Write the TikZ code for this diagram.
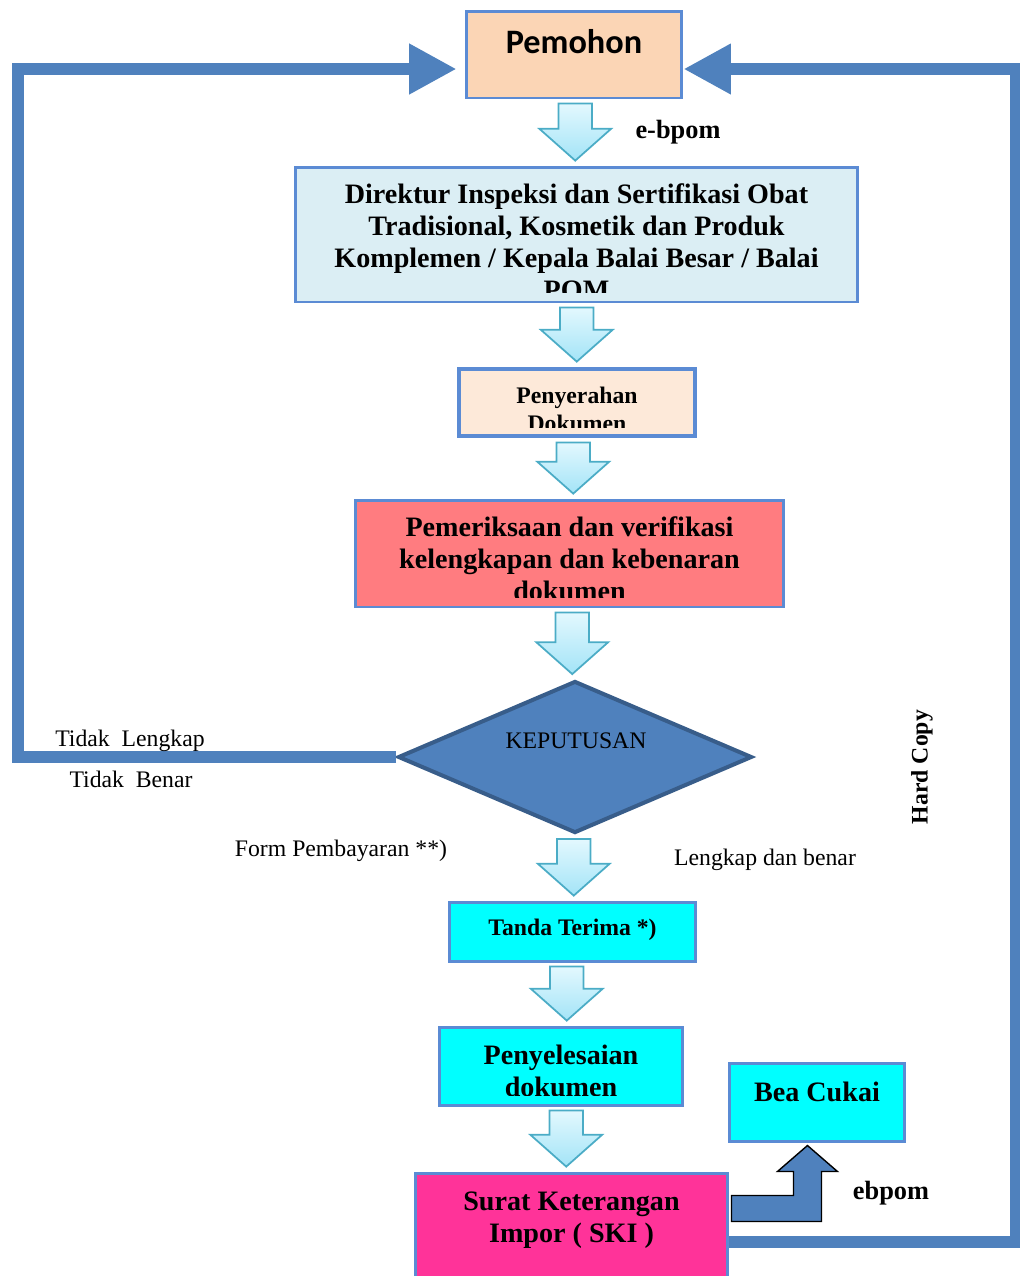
\documentclass[tikz,border=0pt]{standalone}
\usepackage{fontspec}
\setmainfont{Liberation Serif}
\newfontfamily\carlito{Carlito}
\usetikzlibrary{arrows.meta,shapes.geometric,calc}
\definecolor{garisbiru}{HTML}{4F81BD}
\definecolor{tepibiru}{HTML}{5B8BD4}
\definecolor{wajikgelap}{HTML}{385D8A}
\definecolor{isipemohon}{HTML}{FBD5B5}
\definecolor{isidirektur}{HTML}{DBEEF4}
\definecolor{isiserah}{HTML}{FDE9D9}
\definecolor{isiperiksa}{HTML}{FF7C80}
\definecolor{isicyan}{HTML}{00FFFF}
\definecolor{isiski}{HTML}{FF3399}
\definecolor{panahatas}{HTML}{E3F8FE}
\definecolor{panahbawah}{HTML}{A3E4F7}
\definecolor{tepipanah}{HTML}{4BACC6}
\newcommand{\tebalbesar}{\fontsize{16pt}{18.2pt}\selectfont\bfseries}
\newcommand{\tebalkecil}{\fontsize{13.5pt}{16pt}\selectfont\bfseries}
\newcommand{\tebalsedang}{\fontsize{15pt}{18pt}\selectfont\bfseries}
\newcommand{\biasa}{\fontsize{13.5pt}{16pt}\selectfont}
%isi kotak, dipotong oleh tepi kotak
\newcommand{\isikotak}[4]{%
    \begin{scope}
        \clip ([shift={(5,5)}]#1.north west) rectangle ([shift={(-5,-11)}]#1.south east);
        \node[anchor=north,align=center,inner sep=0pt,font=#3] at ([shift={(0,#2)}]#1.north) {#4};
    \end{scope}}

\begin{document}
\begin{tikzpicture}[x=0.02cm,y=-0.02cm,
        kotak/.style={draw=tepibiru,line width=1.7pt,inner sep=0pt},
        teks/.style={font=\biasa,inner sep=0pt},
        panahbalik/.style={garisbiru,line width=6.8pt,-{Triangle[length=27pt,width=27pt]}},
        panahkecil/.style={draw=tepipanah,line width=1pt,top color=panahatas,bottom color=panahbawah},
        bayangan/.style={fill=black!35,xshift=1.5pt,yshift=-2pt},
        panahbengkok/.style={draw=black,line width=0.8pt,fill=garisbiru}]
    \useasboundingbox (0,0) rectangle (1020,1276);
    %kotak-kotak
        \node[kotak,fill=isipemohon,minimum width=4.32cm,minimum height=1.74cm] (pemohon) at (574,54.5) {};
        \node[kotak,fill=isidirektur,minimum width=11.26cm,minimum height=2.70cm] (direktur) at (576.5,234.5) {};
        \node[kotak,line width=2.8pt,fill=isiserah,minimum width=4.72cm,minimum height=1.34cm] (penyerahan) at (577,402.5) {};
        \node[kotak,fill=isiperiksa,minimum width=8.58cm,minimum height=2.14cm] (pemeriksaan) at (569.5,553.5) {};
        \node[diamond,draw=wajikgelap,line width=2.3pt,fill=garisbiru,minimum width=7.08cm,minimum height=3.04cm,inner sep=0pt] (keputusan) at (575,757) {};
        \node[kotak,fill=isicyan,minimum width=4.94cm,minimum height=1.18cm] (tanda) at (572.5,931.5) {};
        \node[kotak,fill=isicyan,minimum width=4.88cm,minimum height=1.56cm] (penyelesaian) at (561,1066) {};
        \node[kotak,fill=isicyan,minimum width=3.52cm,minimum height=1.56cm] (beacukai) at (817,1102) {};
        \node[kotak,fill=isiski,minimum width=6.26cm,minimum height=2.34cm] (ski) at (571.5,1231.5) {};
    %tulisan dalam kotak
        \isikotak{pemohon}{20}{\carlito\fontsize{19.5pt}{23pt}\selectfont\bfseries}{Pemohon}
        \isikotak{direktur}{18}{\tebalbesar}{Direktur Inspeksi dan Sertifikasi Obat\\ Tradisional, Kosmetik dan Produk\\ Komplemen / Kepala Balai Besar / Balai\\ POM}
        \isikotak{penyerahan}{20}{\tebalkecil}{Penyerahan\\ Dokumen}
        \isikotak{pemeriksaan}{18}{\tebalbesar}{Pemeriksaan dan verifikasi\\ kelengkapan dan kebenaran\\ dokumen}
        \isikotak{tanda}{18}{\tebalkecil}{Tanda Terima *)}
        \isikotak{penyelesaian}{19.5}{\tebalbesar}{Penyelesaian\\ dokumen}
        \isikotak{beacukai}{20.5}{\tebalbesar}{Bea Cukai}
        \isikotak{ski}{20}{\tebalbesar}{Surat Keterangan\\ Impor ( SKI )}
        \node[teks] (tulisankeputusan) at (576,741) {KEPUTUSAN};
    %panah kecil ke bawah
        \foreach \atas/\bawah in {pemohon/direktur,direktur/penyerahan,penyerahan/pemeriksaan,pemeriksaan/keputusan,keputusan/tanda,tanda/penyelesaian,penyelesaian/ski}
        {
            \fill[bayangan] let \p1=($(\atas.south)!0.5!(\bawah.north)$), \p2=(\atas.south), \p3=(\bawah.north) in
                (\x1-9.6pt,\y2-2.3pt) -- (\x1+9.6pt,\y2-2.3pt) -- (\x1+9.6pt,\y3+20.9pt) -- (\x1+20.4pt,\y3+20.9pt)
                -- (\x1,\y3+2.8pt) -- (\x1-20.4pt,\y3+20.9pt) -- (\x1-9.6pt,\y3+20.9pt) -- cycle;
            \draw[panahkecil] let \p1=($(\atas.south)!0.5!(\bawah.north)$), \p2=(\atas.south), \p3=(\bawah.north) in
                (\x1-9.6pt,\y2-2.3pt) -- (\x1+9.6pt,\y2-2.3pt) -- (\x1+9.6pt,\y3+20.9pt) -- (\x1+20.4pt,\y3+20.9pt)
                -- (\x1,\y3+2.8pt) -- (\x1-20.4pt,\y3+20.9pt) -- (\x1-9.6pt,\y3+20.9pt) -- cycle;
        }
    %garis balik kiri dan kanan
        \coordinate (kiribawah) at (18,757);
        \coordinate (kiriatas) at (18,69);
        \coordinate (kananbawah) at (1016,1242);
        \coordinate (kananatas) at (1016,69);
        \draw[panahbalik,shorten >=4.5pt] (keputusan.west) -- (kiribawah) -- (kiriatas) -- (kiriatas -| pemohon.west);
        \draw[panahbalik] (kananbawah -| ski.east) -- (kananbawah) -- (kananatas) -- (kananatas -| pemohon.east);
    %panah ke bea cukai
        \draw[panahbengkok] ([shift={(2,-36)}]ski.east) -- ++(62,0) -- ++(0,-24) -- ++(-16,0) -- ++(30,-26)
            -- ++(30,26) -- ++(-16,0) -- ++(0,50) -- ++(-90,0) -- cycle;
    %keterangan
        \node[teks,font=\tebalsedang] (ebpom) at (678,132) {e-bpom};
        \node[teks] (tidaklengkap) at (130,741) {Tidak\ \ Lengkap};
        \node[teks] (tidakbenar) at (131,779) {Tidak\ \ Benar};
        \node[teks] (formbayar) at (341,851) {Form Pembayaran **)};
        \node[teks] (lengkapbenar) at (765,860) {Lengkap dan benar};
        \node[teks,font=\tebalkecil,rotate=90] (hardcopy) at (922,767) {Hard Copy};
        \node[teks,font=\tebalsedang] (ebpombawah) at (891,1193) {ebpom};
\end{tikzpicture}
\end{document}
